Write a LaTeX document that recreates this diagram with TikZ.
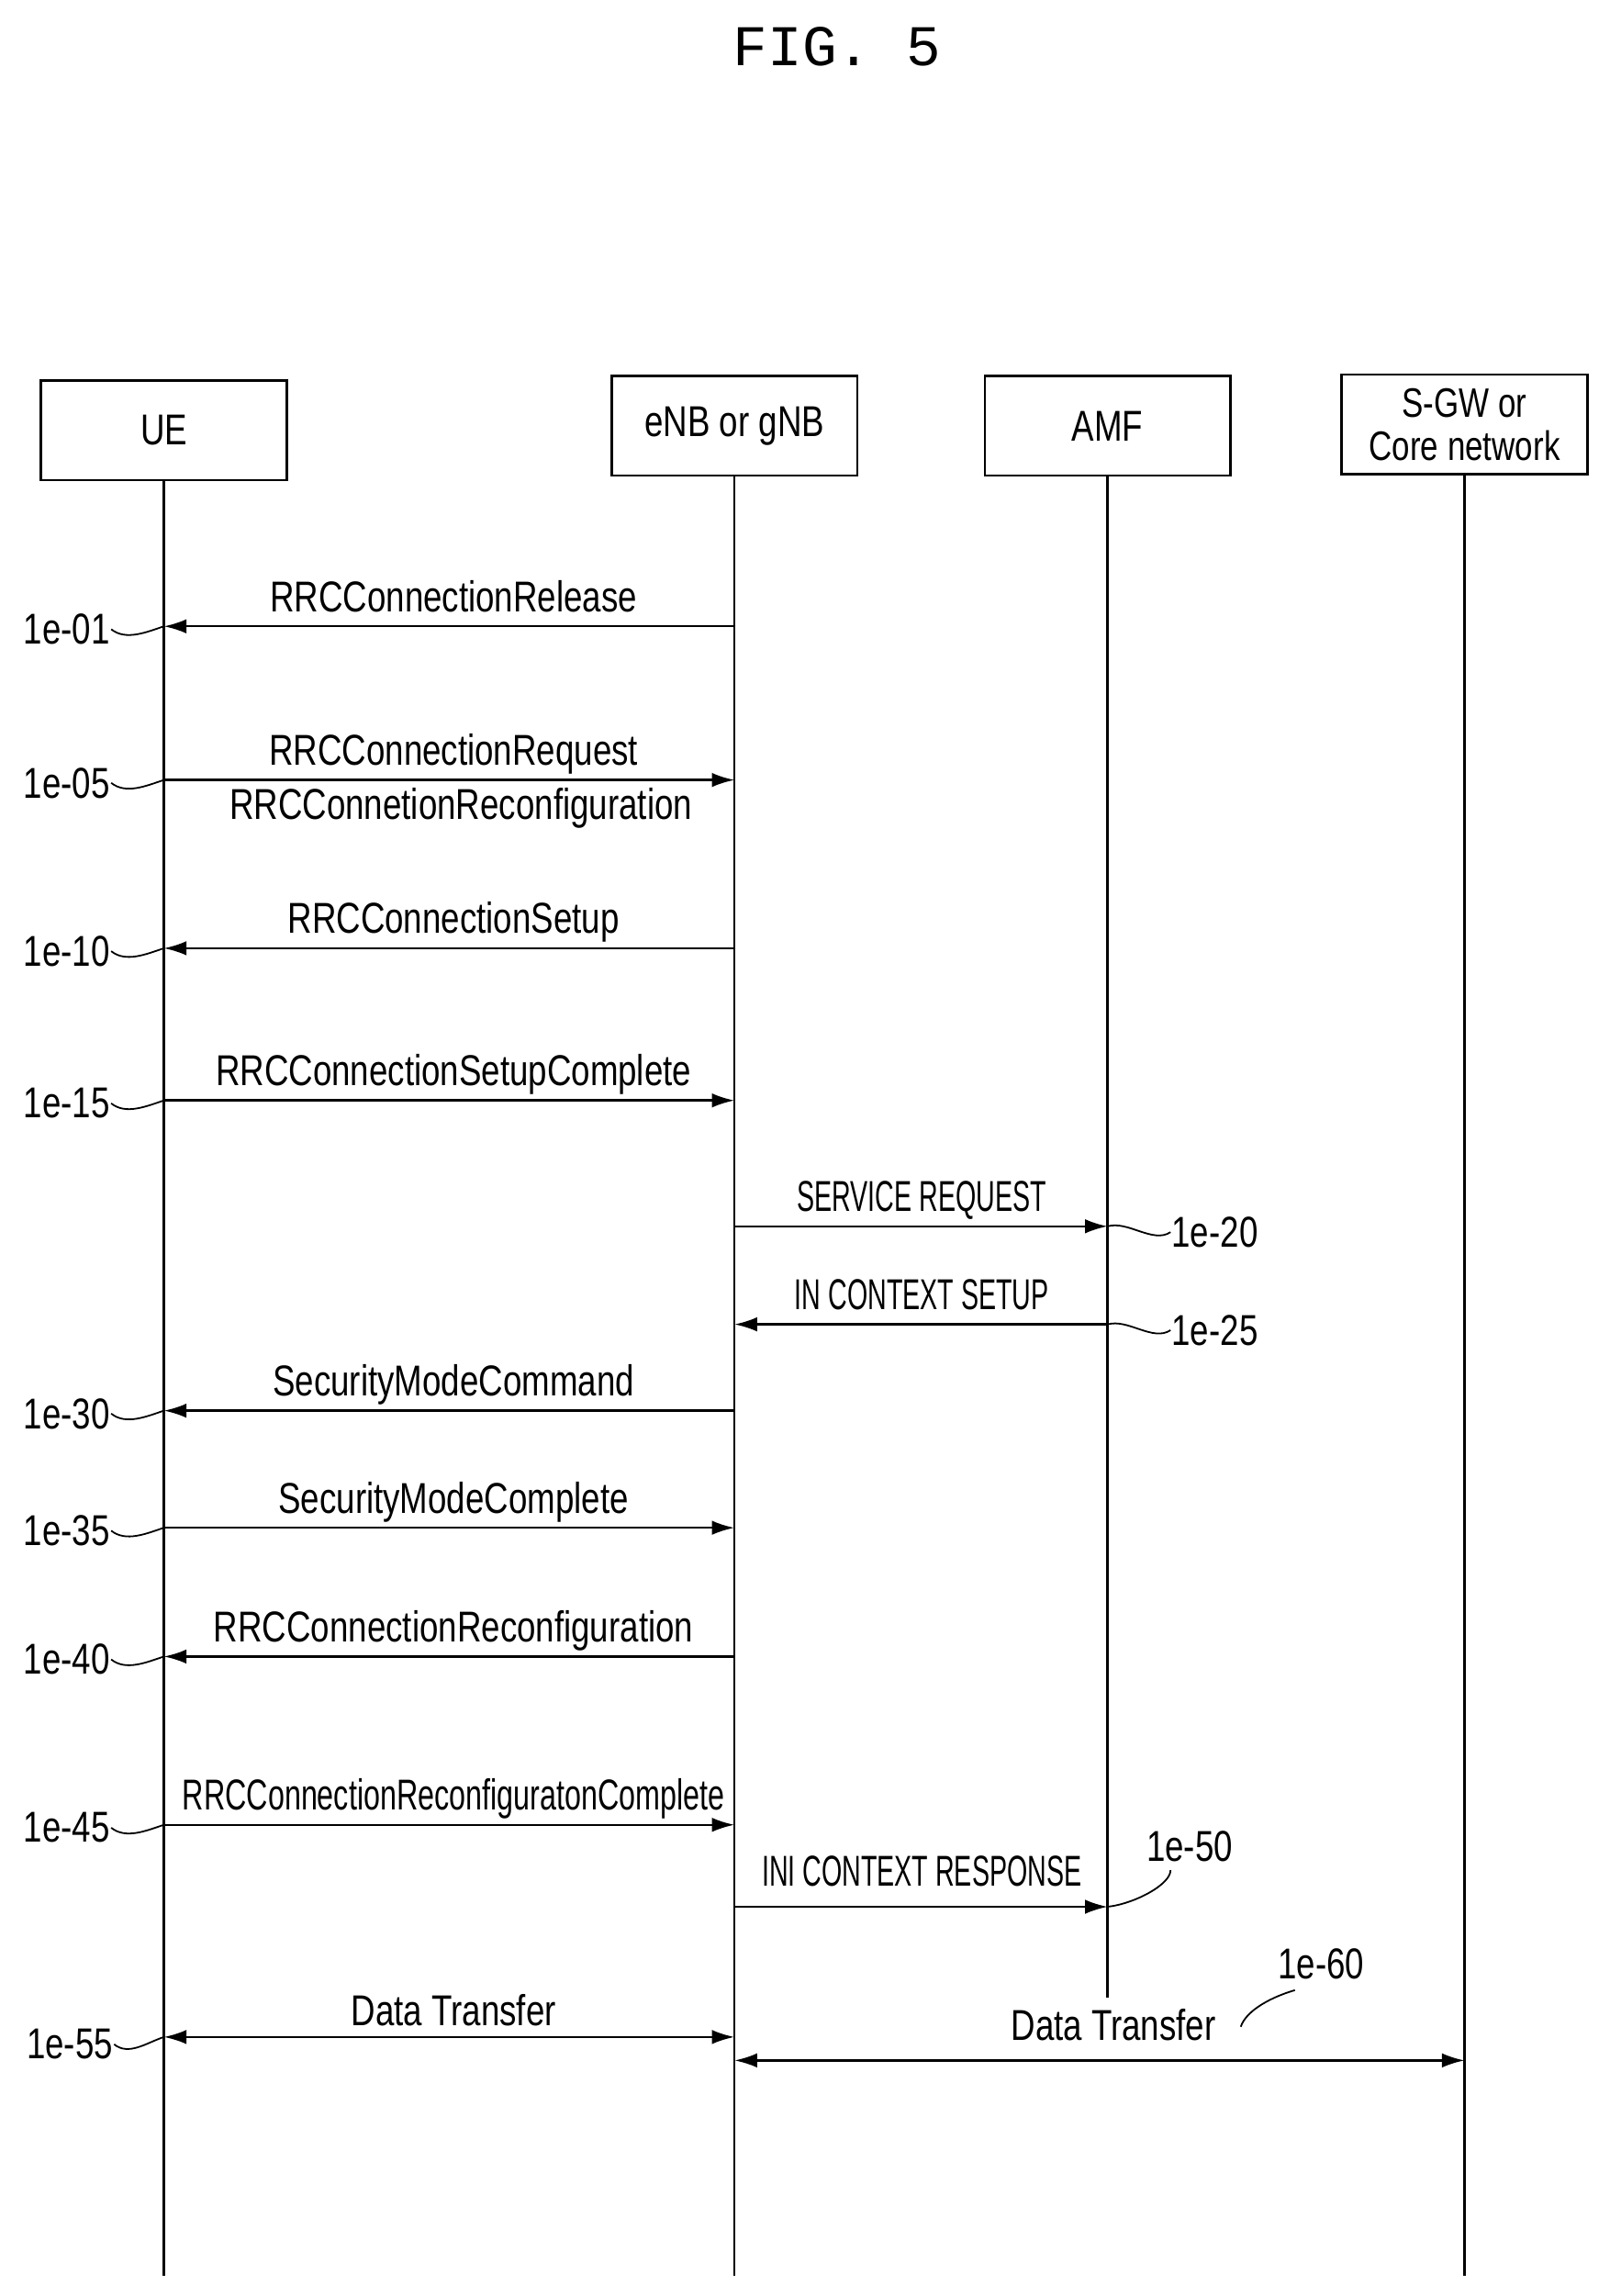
\documentclass[tikz,border=0pt]{standalone}
\usepackage{fontspec}
\setmainfont[FakeStretch=0.78]{Liberation Sans}
\newfontfamily\titlefont{Liberation Mono}
\usetikzlibrary{arrows.meta}
\begin{document}
\begin{tikzpicture}[x=0.05cm,y=-0.05cm,
  box/.style={draw,line width=2.2pt,minimum width=168*0.05cm,minimum height=68*0.05cm,inner sep=0,align=center,font=\fontsize{42}{46}\selectfont},
  life/.style={line width=2.2pt},
  msg/.style={line width=2.2pt,-{Latex[length=22pt,width=14pt]}},
  dmsg/.style={line width=2.2pt,{Latex[length=22pt,width=14pt]}-{Latex[length=22pt,width=14pt]}},
  lbl/.style={font=\fontsize{42}{46}\selectfont,inner sep=1pt},
  ref/.style={font=\fontsize{42}{46}\selectfont,inner sep=1pt},
  sq/.style={line width=1.6pt}]
\useasboundingbox (0,0) rectangle (1100,1569);
\node[font=\titlefont\fontsize{56}{56}\selectfont] (title) at (572,32) {FIG. 5};
\node[box] (ue) at (112,294) {UE};
\node[box] (enb) at (502,291) {eNB or gNB};
\node[box] (amf) at (757,291) {AMF};
\node[box,font=\fontsize{40}{42}\selectfont] (sgw) at (1001,290) {S-GW or\\Core network};
\coordinate (ueb) at (112,1555);
\coordinate (enbb) at (502,1555);
\coordinate (amfb) at (757,1365);
\coordinate (sgwb) at (1001,1555);
\draw[life] (ue) -- (ueb);
\draw[life] (enb) -- (enbb);
\draw[life] (amf) -- (amfb);
\draw[life] (sgw) -- (sgwb);
\foreach \y/\d/\t/\r/\n in {428/l/RRCConnectionRelease/1e-01/a,533/r/RRCConnectionRequest/1e-05/b,648/l/RRCConnectionSetup/1e-10/c,752/r/RRCConnectionSetupComplete/1e-15/d,964/l/SecurityModeCommand/1e-30/e,1044/r/SecurityModeComplete/1e-35/f,1132/l/RRCConnectionReconfiguration/1e-40/g,1247/r/\scalebox{0.88}[1]{RRCConnectionReconfiguratonComplete}/1e-45/h}{
  \coordinate (u\n) at (112,\y);
  \coordinate (e\n) at (502,\y);
  \if l\d \draw[msg] (e\n) -- (u\n); \else \draw[msg] (u\n) -- (e\n); \fi
  \node[lbl,anchor=base] (t\n) at (310,\y-10) {\t};
  \node[ref,anchor=east] (r\n) at (76,\y+2) {\r};
  \draw[sq] (r\n.east) .. controls ++(10,8) and ++(-12,4) .. (u\n);
}
\node[lbl,anchor=base] (tb2) at (315,560) {RRCConnetionReconfiguration};
\coordinate (e20) at (502,838); \coordinate (a20) at (757,838);
\draw[msg] (e20) -- (a20);
\node[lbl,anchor=base] (t20) at (630,828) {\scalebox{0.78}[1]{SERVICE REQUEST}};
\node[ref,anchor=west] (r20) at (800,842) {1e-20};
\draw[sq] (a20) .. controls ++(14,-4) and ++(-12,8) .. (r20.west);
\coordinate (e25) at (502,905); \coordinate (a25) at (757,905);
\draw[msg] (a25) -- (e25);
\node[lbl,anchor=base] (t25) at (630,895) {\scalebox{0.78}[1]{IN CONTEXT SETUP}};
\node[ref,anchor=west] (r25) at (800,909) {1e-25};
\draw[sq] (a25) .. controls ++(14,-4) and ++(-12,8) .. (r25.west);
\coordinate (e50) at (502,1303); \coordinate (a50) at (757,1303);
\draw[msg] (e50) -- (a50);
\node[lbl,anchor=base] (t50) at (630,1289) {\scalebox{0.78}[1]{INI CONTEXT RESPONSE}};
\node[ref] (r50) at (813,1262) {1e-50};
\draw[sq] (a50) .. controls ++(18,-2) and ++(0,10) .. (800,1278);
\coordinate (u55) at (112,1392); \coordinate (e55) at (502,1392);
\draw[dmsg] (u55) -- (e55);
\node[lbl,anchor=base] (t55) at (310,1384) {Data Transfer};
\node[ref,anchor=east] (r55) at (78,1397) {1e-55};
\draw[sq] (r55.east) .. controls ++(10,8) and ++(-12,4) .. (u55);
\coordinate (e60) at (502,1408); \coordinate (s60) at (1001,1408);
\draw[dmsg] (e60) -- (s60);
\node[lbl,anchor=base] (t60) at (761,1394) {Data Transfer};
\node[ref] (r60) at (903,1342) {1e-60};
\draw[sq] (848,1385) .. controls ++(4,-12) and ++(-14,4) .. (885,1360);
\end{tikzpicture}
\end{document}
